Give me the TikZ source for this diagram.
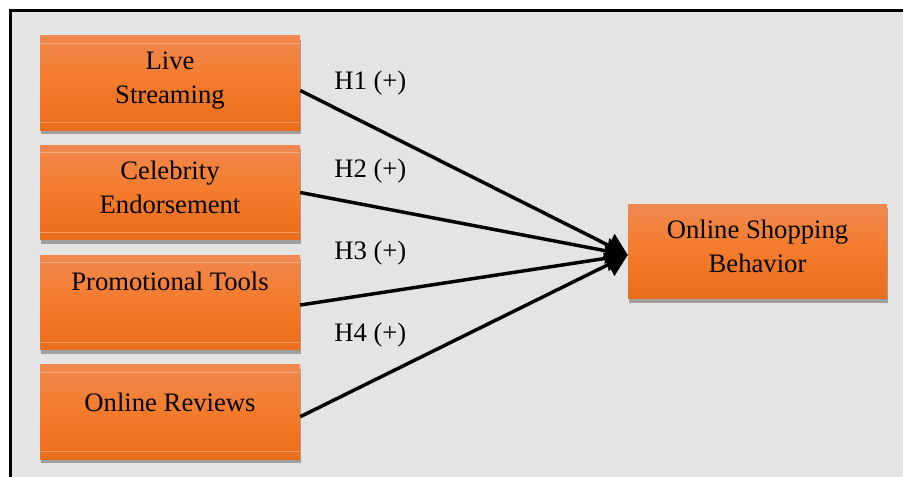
\documentclass[tikz,border=0pt]{standalone}
\usepackage{fontspec}
\setmainfont{Liberation Serif}
\usetikzlibrary{arrows.meta,shadows,calc}
\definecolor{bggray}{HTML}{E4E4E4}
\definecolor{ortop}{HTML}{F0884F}
\definecolor{ormid}{HTML}{F47B2B}
\definecolor{orbot}{HTML}{E86D1C}
\tikzset{
  orbox/.style={rectangle, inner sep=0pt, minimum width=195pt, minimum height=70.8pt,
    top color=ortop, bottom color=orbot, middle color=ormid, draw=none,
    drop shadow={shadow xshift=0.6pt, shadow yshift=-3pt, opacity=0.3, fill=black}},
  boxtext/.style={inner sep=0pt, align=center, font=\fontsize{20}{25.6}\selectfont},
  hyp/.style={inner sep=0pt, anchor=base west, font=\fontsize{20}{24}\selectfont},
  link/.style={line width=2.6pt, -{Triangle[length=16pt,width=19pt]}},
  hl/.style={draw=white, draw opacity=0.3, line width=0.8pt}
}
\begin{document}
\begin{tikzpicture}[x=0.75pt,y=-0.75pt]
\useasboundingbox[fill=white] (0,0) rectangle (903,477);
\draw[line width=2pt, fill=bggray] (10.8,10.5) rectangle (960,540);
% boxes
\node[orbox] (ls) at (170,83) {};
\node[orbox] (ce) at (170,192.5) {};
\node[orbox] (pt) at (170,302.5) {};
\node[orbox] (or) at (170,412) {};
\node[orbox, minimum width=194.25pt] (osb) at (757.5,251.5) {};
\foreach \b in {ls,ce,pt,or}{
  \draw[hl] ($(\b.north west)+(0,7.7)$) -- ($(\b.north east)+(0,7.7)$);
  \draw[hl] ($(\b.south west)+(0,-7.6)$) -- ($(\b.south east)+(0,-7.6)$);
}
% texts
\node[boxtext] (ls-t) at (170,80.6) {Live\\Streaming};
\node[boxtext] (ce-t) at (170,187.6) {Celebrity\\Endorsement};
\node[boxtext] (pt-t) at (170,281) {Promotional Tools};
\node[boxtext] (or-t) at (170,402.5) {Online Reviews};
\node[boxtext] (osb-t) at (757.5,246.3) {Online Shopping\\Behavior};
% arrows
\coordinate (tip) at ($(osb.west)+(0,3.5)$);
\draw[link] ($(ls.east)+(0,7.5)$) -- (tip);
\draw[link] (ce.east) -- (tip);
\draw[link] ($(pt.east)+(0,2.5)$) -- (tip);
\draw[link] ($(or.east)+(0,4.7)$) -- (tip);
% hypothesis labels
\node[hyp] (h1) at (334,89.3) {H1 (+)};
\node[hyp] (h2) at (334,177.3) {H2 (+)};
\node[hyp] (h3) at (334,259.3) {H3 (+)};
\node[hyp] (h4) at (334,341) {H4 (+)};
\end{tikzpicture}
\end{document}
